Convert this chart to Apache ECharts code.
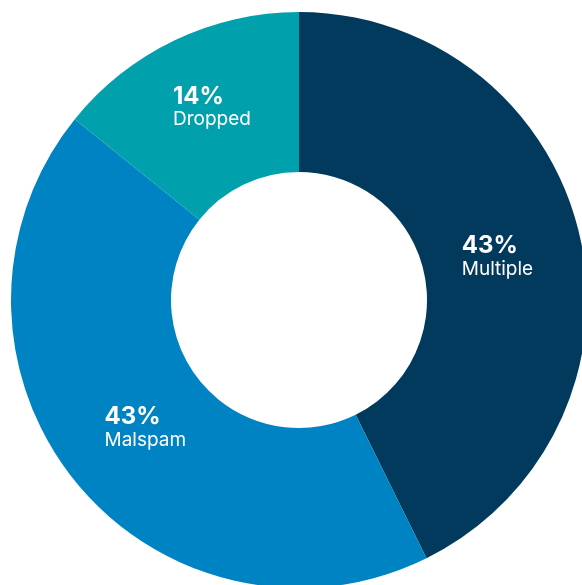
<!DOCTYPE html>
<html>
<head>
<meta charset="utf-8">
<script src="https://cdn.jsdelivr.net/npm/echarts@6/dist/echarts.min.js"></script>
<style>
html,body{margin:0;padding:0;background:#fff;}
#chart{width:582px;height:585px;}
</style>
</head>
<body>
<div id="chart"></div>
<script>
const categories = ['Multiple', 'Malspam', 'Dropped'];
const values = [42.7, 43.1, 14.2];
const colors = ['#023a5d', '#0083c2', '#00a1ad'];

const labelNudge = {Multiple: [-7, 5], Malspam: [11, -4], Dropped: [4, -2]};

const chart = echarts.init(document.getElementById('chart'), null, {renderer: 'canvas'});
chart.setOption({
  animation: false,
  backgroundColor: '#ffffff',
  series: [{
    type: 'pie',
    center: [299, 300],
    radius: [128, 288],
    startAngle: 90,
    clockwise: true,
    silent: true,
    data: categories.map((c, i) => ({
      name: c,
      value: values[i],
      itemStyle: {color: colors[i]},
      label: {offset: labelNudge[c]}
    })),
    itemStyle: {borderWidth: 0},
    label: {
      show: true,
      position: 'inside',
      formatter: p => '{a|' + Math.round(p.value) + '%}\n{b|' + p.name + '}',
      rich: {
        a: {color: '#fff', fontFamily: 'Inter', fontWeight: 'bold', fontSize: 24, lineHeight: 24, align: 'left'},
        b: {color: '#fff', fontFamily: 'Inter', fontSize: 19, lineHeight: 22, align: 'left'}
      }
    },
    labelLine: {show: false}
  }]
});
</script>
</body>
</html>
